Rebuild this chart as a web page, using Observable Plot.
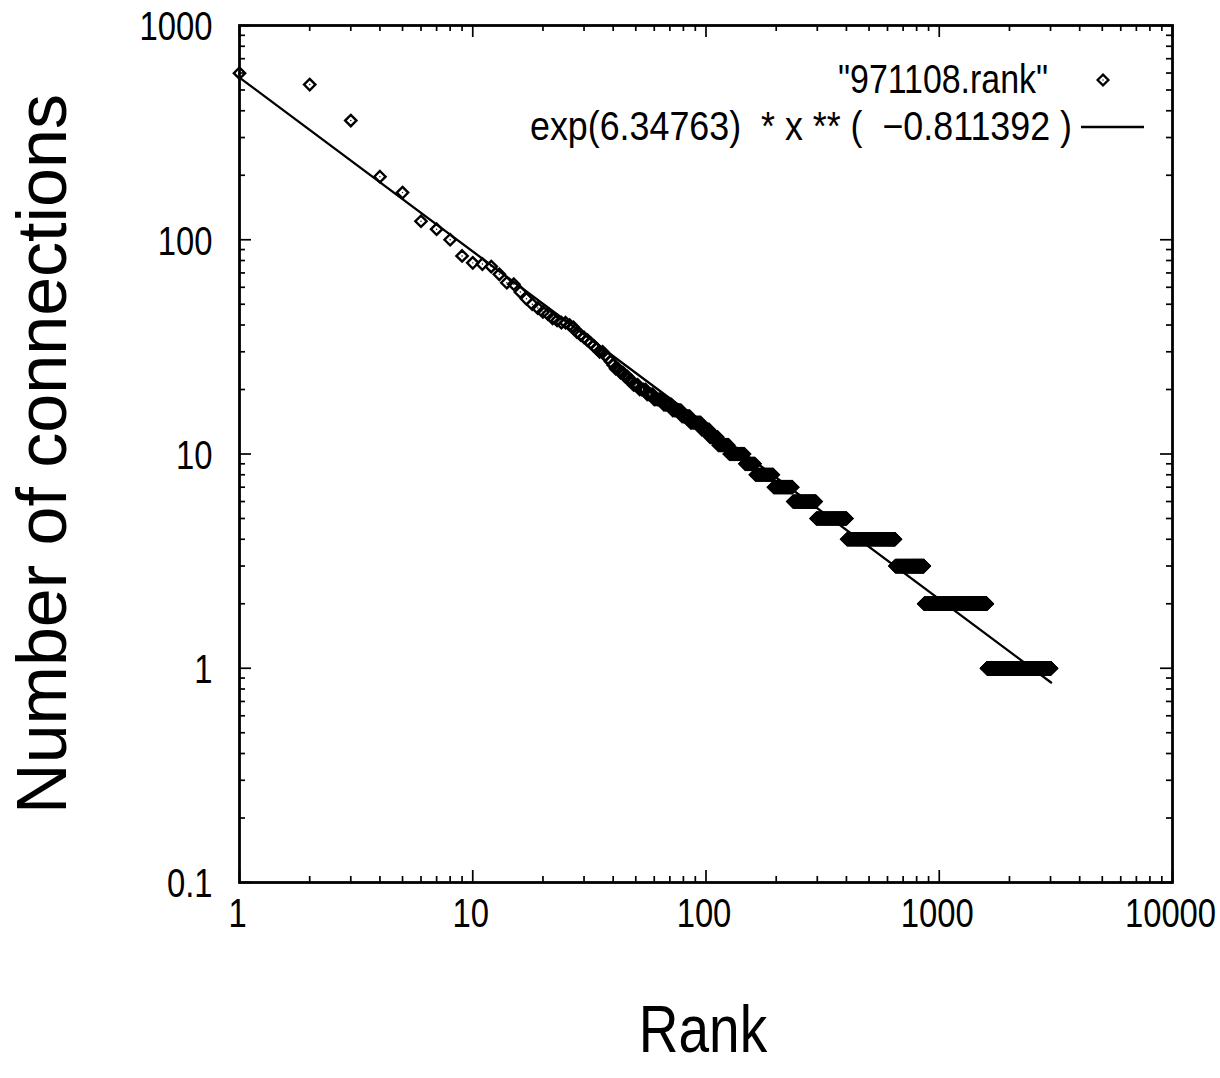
<!DOCTYPE html>
<html><head><meta charset="utf-8">
<script src="https://cdn.jsdelivr.net/npm/d3@7"></script>
<script src="https://cdn.jsdelivr.net/npm/@observablehq/plot@0.6"></script>
<style>
body{margin:0;background:#fff}
</style></head><body>
<div id="chart"></div>
<script>
// ---- data ----
const topRanks = [1,2,3,4,5,6,7,8,9,10,11,12,13,14,15,16,17,18,19,20,21,22,23,24,25,26,27,28,29,30,31,32,33,34,35,36,37,38,39,40,41,42];
const topValues = [599,530,360,197,166,122,112,100,84,78,77,75,69,63,62,57,53,50,48,46,45,43,42,41,41,40,39,37,36,35,34,33,32,31,30,30,29,28,27,26,25,25];
// runs of equal connection counts (value, first rank, last rank)
const runValues = [24,23,22,21,20,19,18,17,16,15,14,13,12,11,10,9,8,7,6,5,4,3,2,1];
const runFirstRank = [43,45,47,49,52,56,60,66,72,79,86,96,104,113,126,147,163,195,236,297,402,648,861,1601];
const runLastRank = [44,46,48,51,55,59,65,71,78,85,95,103,112,125,146,162,194,235,296,401,647,860,1600,3015];
const fitLogA = 6.34763;
const fitExponent = -0.811392;
const xTickValues = [1,10,100,1000,10000];
const xTickLabels = ["1","10","100","1000","10000"];
const yTickValues = [0.1,1,10,100,1000];
const yTickLabels = ["0.1","1","10","100","1000"];
const seriesLabel = "\"971108.rank\"";
const fitLabel = "exp(6.34763)  * x ** (  \u22120.811392 )";
const xTitle = "Rank";
const yTitle = "Number of connections";

// ---- build tables ----
const points = topRanks.map((r,i)=>({rank:r, value:topValues[i]}));
runValues.forEach((v,i)=>{ for(let r=runFirstRank[i]; r<=runLastRank[i]; r++) points.push({rank:r, value:v}); });
const lastRank = runLastRank[runLastRank.length-1];
const fitLine = [1, lastRank].map(x=>({x, y:Math.exp(fitLogA)*Math.pow(x, fitExponent)}));
const minorOf = (lo,hi)=>{const out=[]; for(let d=lo; d<hi; d*=10) for(let k=2;k<=9;k++) out.push(+(d*k).toPrecision(3)); return out;};
const xMinor = minorOf(1,10000), yMinor = minorOf(0.1,1000);

// is a real narrow face installed?
const cv = document.createElement("canvas").getContext("2d");
cv.font = "40px monospace"; const wMono = cv.measureText("10000 abc").width;
cv.font = "40px 'Liberation Sans Narrow', monospace"; const wNar = cv.measureText("10000 abc").width;
const hasNarrow = Math.abs(wMono - wNar) > 0.5;

const W=1220, H=1078, mL=239, mR=48, mT=25, mB=196;
const MAJ=12, MIN=6;
const tickStyle = {stroke:"black", strokeWidth:1.7};
const fnt = "'Liberation Sans', Arial, Helvetica, sans-serif";
const fntN = hasNarrow ? "'Liberation Sans Narrow', 'Liberation Sans', Arial, sans-serif" : fnt;

const plot = Plot.plot({
  width:W, height:H, marginLeft:mL, marginRight:mR, marginTop:mT, marginBottom:mB,
  style:{fontFamily:fnt, background:"white", color:"black"},
  x:{type:"log", domain:[1,10000], axis:null},
  y:{type:"log", domain:[0.1,1000], axis:null},
  marks:[
    // ticks (inward, mirrored)
    Plot.ruleX(xTickValues, {x:d=>d, y1:0.1, y2:0.1, insetTop:-MAJ, ...tickStyle}),
    Plot.ruleX(xMinor, {x:d=>d, y1:0.1, y2:0.1, insetTop:-MIN, ...tickStyle}),
    Plot.ruleX(xTickValues, {x:d=>d, y1:1000, y2:1000, insetBottom:-MAJ, ...tickStyle}),
    Plot.ruleX(xMinor, {x:d=>d, y1:1000, y2:1000, insetBottom:-MIN, ...tickStyle}),
    Plot.ruleY(yTickValues, {y:d=>d, x1:1, x2:1, insetRight:-MAJ, ...tickStyle}),
    Plot.ruleY(yMinor, {y:d=>d, x1:1, x2:1, insetRight:-MIN, ...tickStyle}),
    Plot.ruleY(yTickValues, {y:d=>d, x1:10000, x2:10000, insetLeft:-MAJ, ...tickStyle}),
    Plot.ruleY(yMinor, {y:d=>d, x1:10000, x2:10000, insetLeft:-MIN, ...tickStyle}),
    Plot.line(fitLine, {x:"x", y:"y", stroke:"black", strokeWidth:2.3}),
    Plot.dot(points, {x:"rank", y:"value", symbol:"diamond2", r:5.1, stroke:"black", strokeWidth:2.4, fill:"none"}),
    Plot.dot(points, {x:"rank", y:"value", r:0.7, fill:"black", stroke:null}),
    Plot.frame({stroke:"black", strokeWidth:2.8}),
    Plot.text(xTickValues, {x:d=>d, text:(d,i)=>xTickLabels[i], frameAnchor:"bottom", dy:44.5, dx:-2, fontSize:40, fill:"black", fontFamily:fntN, className:"narrow"}),
    Plot.text(yTickValues, {y:d=>d, text:(d,i)=>yTickLabels[i], frameAnchor:"left", dx:-27, dy:2, textAnchor:"end", fontSize:40, fill:"black", fontFamily:fntN, className:"narrow"}),
    Plot.text([xTitle], {text:d=>d, frameAnchor:"bottom", dy:169.6, dx:-3, fontSize:67, fill:"black", fontFamily:fntN, className:"narrow"}),
    Plot.text([yTitle], {text:d=>d, frameAnchor:"left", dx:-196, rotate:-90, textAnchor:"middle", fontSize:70, fill:"black"})
  ]
});
document.getElementById("chart").appendChild(plot);

// narrow (Helvetica-Narrow like) text when no narrow face is installed
if (!hasNarrow) plot.querySelectorAll(".narrow text").forEach(t=>{
  const w = t.getComputedTextLength();
  t.setAttribute("textLength", (w*0.82).toFixed(1));
  t.setAttribute("lengthAdjust","spacingAndGlyphs");
});

// legend (gnuplot style key at top right inside frame)
const svg = d3.select(plot);
const g = svg.append("g").attr("font-family", fntN).attr("font-size", 40).attr("fill","black");
const t1 = g.append("text").attr("x",1048).attr("y",80).attr("dy","0.32em").attr("text-anchor","end").text(seriesLabel);
const t2 = g.append("text").attr("x",1072).attr("y",127).attr("dy","0.32em").attr("text-anchor","end").style("white-space","pre").text(fitLabel);
t1.attr("textLength", 210).attr("lengthAdjust","spacingAndGlyphs");
t2.attr("textLength", 542).attr("lengthAdjust","spacingAndGlyphs");
const dsz = 5.4;
g.append("path").attr("d",`M1103,${80-dsz}L${1103+dsz},80L1103,${80+dsz}L${1103-dsz},80Z`).attr("fill","none").attr("stroke","black").attr("stroke-width",2.3);
g.append("circle").attr("cx",1103).attr("cy",80).attr("r",0.7).attr("fill","black");
g.append("line").attr("x1",1081).attr("x2",1144).attr("y1",127).attr("y2",127).attr("stroke","black").attr("stroke-width",2.3);
</script>
</body></html>
